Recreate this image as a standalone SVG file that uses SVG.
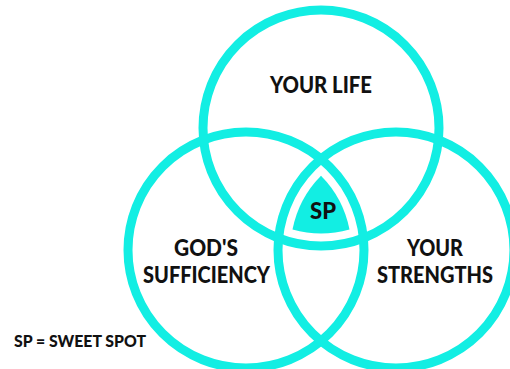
<svg xmlns="http://www.w3.org/2000/svg" width="510" height="369" viewBox="0 0 510 369">
<style>
.ring{fill:none;stroke:#12EEE3;stroke-width:9}
.lbl{font-family:Lato,"Liberation Sans",sans-serif;font-weight:900;fill:#111;text-anchor:middle}
</style>
<rect width="510" height="369" fill="#fff"/>
<g id="connectors"></g>
<g id="your-life">
<circle class="ring" cx="321" cy="128" r="118"/>
<text class="lbl" x="321" y="93" font-size="23.5" textLength="102" lengthAdjust="spacingAndGlyphs">YOUR LIFE</text>
</g>
<g id="gods-sufficiency">
<circle class="ring" cx="246" cy="250" r="118"/>
<text class="lbl" x="206" y="256" font-size="23.5" textLength="64" lengthAdjust="spacingAndGlyphs">GOD'S</text>
<text class="lbl" x="206.5" y="283" font-size="23.5" textLength="127" lengthAdjust="spacingAndGlyphs">SUFFICIENCY</text>
</g>
<g id="your-strengths">
<circle class="ring" cx="396" cy="250" r="118"/>
<text class="lbl" x="435" y="256" font-size="23.5" textLength="56" lengthAdjust="spacingAndGlyphs">YOUR</text>
<text class="lbl" x="435" y="283" font-size="23.5" textLength="116" lengthAdjust="spacingAndGlyphs">STRENGTHS</text>
</g>
<g id="sweet-spot">
<path d="M321,175.8 A105.5,105.5 0 0 0 292.5,229.6 A105.5,105.5 0 0 0 349.5,229.6 A105.5,105.5 0 0 0 321,175.8 Z" fill="#12EEE3"/>
<text class="lbl" x="323" y="218.5" font-size="22" textLength="26" lengthAdjust="spacingAndGlyphs">SP</text>
</g>
<g id="legend">
<text class="lbl" x="80" y="347" font-size="16.5" textLength="132" lengthAdjust="spacingAndGlyphs">SP = SWEET SPOT</text>
</g>
</svg>
